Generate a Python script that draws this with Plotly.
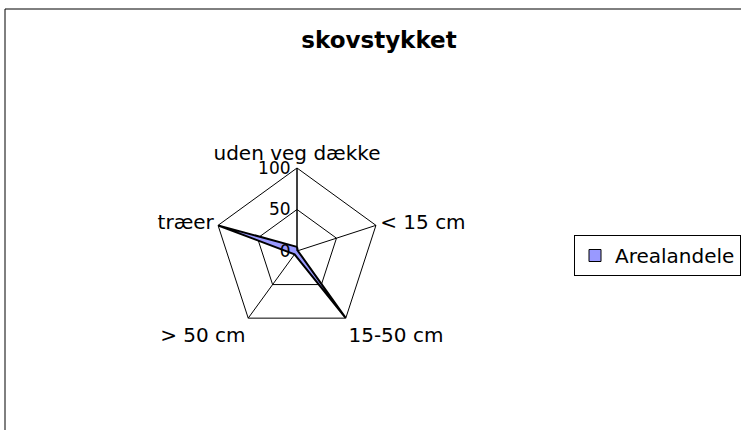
import plotly.graph_objects as go

categories = ["uden veg dække", "< 15 cm", "15-50 cm", "> 50 cm", "træer"]
values = [5, 1, 100, 5, 100]
series_name = "Arealandele"
radial_ticks = [0, 50, 100]
title_text = "skovstykket"

W, H = 741, 430
cx, cy, R = 297, 251, 83
FILL = "#9999FF"

fig = go.Figure()
fig.add_trace(go.Scatterpolar(
    r=values + [values[0]],
    theta=categories + [categories[0]],
    name=series_name,
    mode="lines",
    fill="toself",
    fillcolor=FILL,
    line=dict(color="black", width=2),
    showlegend=False,
))
# legend entry (square swatch like the original)
fig.add_trace(go.Scatterpolar(
    r=[None], theta=[categories[0]],
    name=series_name,
    mode="markers",
    marker=dict(symbol="square", size=12, color=FILL, line=dict(color="black", width=1)),
    showlegend=True,
))

fig.update_layout(
    width=W, height=H,
    margin=dict(l=0, r=0, t=0, b=0),
    paper_bgcolor="white",
    plot_bgcolor="white",
    font=dict(family="DejaVu Sans", size=20, color="black"),
    title=dict(text="<b>" + title_text + "</b>", x=379 / W, xanchor="center",
               y=1 - 40 / H, yanchor="middle", font=dict(size=23, family="DejaVu Sans")),
    polar=dict(
        domain=dict(x=[(cx - R) / W, (cx + R) / W], y=[(H - cy - R) / H, (H - cy + R) / H]),
        bgcolor="white",
        gridshape="linear",
        angularaxis=dict(
            rotation=90, direction="clockwise",
            categoryorder="array", categoryarray=categories,
            showline=True, linecolor="black", linewidth=1,
            gridcolor="black", gridwidth=1,
            ticks="", tickfont=dict(size=20, family="DejaVu Sans"),
        ),
        radialaxis=dict(
            range=[0, 100], tickvals=radial_ticks, ticktext=[str(v) for v in radial_ticks],
            angle=90, tickangle=90, side="counterclockwise",
            showline=True, linecolor="black", linewidth=1,
            gridcolor="black", gridwidth=1,
            ticks="", tickfont=dict(size=17, family="DejaVu Sans"),
        ),
    ),
    legend=dict(
        x=1, y=1 - 235 / H, xanchor="right", yanchor="top",
        bordercolor="black", borderwidth=1, bgcolor="white",
        font=dict(size=20, family="DejaVu Sans"),
        itemwidth=30,
    ),
    shapes=[
        dict(type="line", xref="paper", yref="paper", x0=5 / W, x1=1.05, y0=1 - 9 / H, y1=1 - 9 / H,
             line=dict(color="black", width=1)),
        dict(type="line", xref="paper", yref="paper", x0=5 / W, x1=5 / W, y0=-0.05, y1=1 - 9 / H,
             line=dict(color="black", width=1)),
    ],
)

fig.write_html("out.html", config={"displayModeBar": False},
               post_script="document.body.style.margin='0';document.body.style.padding='0';")
